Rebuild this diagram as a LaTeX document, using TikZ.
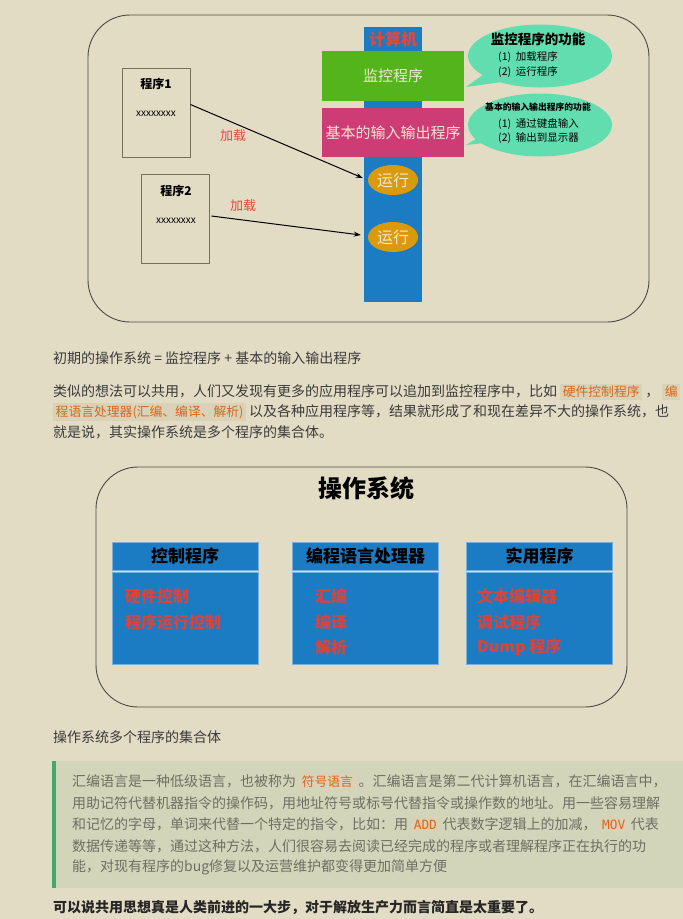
\documentclass[tikz,border=0pt]{standalone}
\usepackage{fontspec}
\setmainfont{Noto Sans CJK SC}
\newfontfamily\codemono{DejaVu Sans Mono}
\usetikzlibrary{arrows.meta,shapes.geometric}

\definecolor{pagebg}{HTML}{E3DCC5}
\definecolor{quotebg}{HTML}{D2D5BA}
\definecolor{quotebar}{HTML}{42A96B}
\definecolor{framegray}{HTML}{4A4A44}
\definecolor{boxgray}{HTML}{77705C}
\definecolor{colblue}{HTML}{1B7BC3}
\definecolor{monigreen}{HTML}{53B51B}
\definecolor{iopink}{HTML}{CE3C76}
\definecolor{runorange}{HTML}{DA9A0C}
\definecolor{bubblegreen}{HTML}{62DDB0}
\definecolor{labelred}{HTML}{E5473A}
\definecolor{itemred}{HTML}{E04238}
\definecolor{bodytext}{HTML}{3A3A3A}
\definecolor{quotetext}{HTML}{6E6E62}
\definecolor{codefg}{HTML}{D8661C}
\definecolor{codebg}{HTML}{DAD2B7}
\definecolor{boxtext}{HTML}{EEE8D2}

\newcommand{\hl}[1]{{\setlength{\fboxsep}{2.5pt}\colorbox{codebg}{\fontsize{12.8}{14}\selectfont\textcolor{codefg}{#1}}}}
\newcommand{\hlmono}[1]{\hl{\codemono #1}}

\tikzset{
  frame/.style={draw=framegray, line width=0.9pt, rounded corners=42pt},
  progbox/.style={draw=boxgray, line width=0.9pt, fill=pagebg, minimum width=68pt, minimum height=89pt, inner sep=0pt},
  layer/.style={minimum width=142pt, minimum height=50pt, inner sep=0pt, text=boxtext, font=\fontsize{15}{17}\selectfont},
  runoval/.style={ellipse, fill=runorange, minimum width=50pt, minimum height=30pt, inner sep=0pt, text=boxtext, font=\fontsize{16}{18}\selectfont},
  bubble/.style={ellipse, fill=bubblegreen, minimum width=144pt, minimum height=63pt, inner sep=0pt},
  hdbox/.style={fill=colblue, draw=colblue!60!white, line width=0.6pt, minimum width=146pt, minimum height=28pt, inner sep=0pt, font=\bfseries\fontsize{17}{19}\selectfont},
  bdbox/.style={fill=colblue, draw=colblue!60!white, line width=0.6pt, minimum width=146pt, minimum height=92pt, inner sep=0pt},
  item/.style={anchor=west, inner sep=0pt, text=itemred, font=\bfseries\fontsize{16}{18}\selectfont},
  line/.style={anchor=west, inner sep=0pt, text=bodytext, font=\fontsize{14}{20}\selectfont},
  qline/.style={anchor=west, inner sep=0pt, text=quotetext, font=\fontsize{14}{20}\selectfont},
  small/.style={inner sep=0pt, font=\fontsize{10.5}{12}\selectfont},
}

\begin{document}
\begin{tikzpicture}[x=1pt,y=-1pt]
  \fill[pagebg] (0,0) rectangle (683,919);
  \useasboundingbox (0,0) rectangle (683,919);

  % first picture: early operating system
  \draw[frame] (88,15) rectangle (649,322);
  \node[fill=colblue, minimum width=58pt, minimum height=275pt, inner sep=0pt] (col) at (393,164.5) {};
  \node[text=labelred, font=\bfseries\fontsize{16}{18}\selectfont, inner sep=0pt] (pc) at (393,39) {计算机};
  \node[layer, fill=monigreen] (moni) at (393,76) {监控程序};
  \node[layer, fill=iopink, minimum height=49pt] (bios) at (393,132.5) {基本的输入输出程序};
  \node[runoval] (run1) at (393,180) {运行};
  \node[runoval] (run2) at (393,237) {运行};

  \node[progbox] (p1) at (156,112.5) {};
  \node[small, font=\bfseries\fontsize{12}{14}\selectfont] (p1title) at (156,84) {程序1};
  \node[small, font=\fontsize{10}{12}\selectfont] (p1body) at (156,114) {xxxxxxxx};
  \node[progbox] (p2) at (175,218.5) {};
  \node[small, font=\bfseries\fontsize{12}{14}\selectfont] (p2title) at (176,191) {程序2};
  \node[small, font=\fontsize{10}{12}\selectfont] (p2body) at (176,221) {xxxxxxxx};

  \draw[-{Stealth[length=7pt,width=5pt]}, line width=1pt] ([yshift=8pt]p1.east) -- ([xshift=-5pt,yshift=2pt]run1.west);
  \draw[-{Stealth[length=7pt,width=5pt]}, line width=1pt] ([xshift=2pt,yshift=2.5pt]p2.east) -- ([xshift=-7pt,yshift=2pt]run2.west);
  \node[text=labelred, font=\fontsize{13}{15}\selectfont, inner sep=0pt] (load1) at (233,136) {加载};
  \node[text=labelred, font=\fontsize{13}{15}\selectfont, inner sep=0pt] (load2) at (243,206) {加载};

  % speech bubbles
  \fill[bubblegreen] (484,74) -- (466,87) -- (502,82) -- cycle;
  \node[bubble] (bub1) at (540,56) {};
  \node[small, font=\bfseries\fontsize{13.5}{15}\selectfont] (bub1title) at (538,39) {监控程序的功能};
  \node[small, anchor=west] (bub1a) at (498,57) {(1)\ \ 加载程序};
  \node[small, anchor=west] (bub1b) at (498,72) {(2)\ \ 运行程序};
  \fill[bubblegreen] (484,134) -- (466,145) -- (502,141) -- cycle;
  \node[bubble] (bub2) at (540,125) {};
  \node[small, font=\bfseries\fontsize{8.8}{10}\selectfont] (bub2title) at (538,107) {基本的输入输出程序的功能};
  \node[small, anchor=west] (bub2a) at (498,124) {(1)\ \ 通过键盘输入};
  \node[small, anchor=west] (bub2b) at (498,138) {(2)\ \ 输出到显示器};

  % text between the pictures
  \node[line] (t1) at (53,358) {初期的操作系统 = 监控程序 + 基本的输入输出程序};
  \node[line] (t2) at (53,392) {类似的想法可以共用，人们又发现有更多的应用程序可以追加到监控程序中，比如 \hl{硬件控制程序} ， \hl{编}};
  \node[line] (t3) at (53,412) {\hl{程语言处理器(汇编、编译、解析)} 以及各种应用程序等，结果就形成了和现在差异不大的操作系统，也};
  \node[line] (t4) at (53,432) {就是说，其实操作系统是多个程序的集合体。};

  % second picture: operating system
  \draw[frame] (96,467) rectangle (627,707);
  \node[font=\bfseries\fontsize{24}{26}\selectfont, inner sep=0pt] (ostitle) at (366,488) {操作系统};
  \node[hdbox] (hdctl) at (185,556) {控制程序};
  \node[bdbox] (bdctl) at (185,618) {};
  \node[hdbox] (hdlang) at (365.5,556) {编程语言处理器};
  \node[bdbox] (bdlang) at (365.5,618) {};
  \node[hdbox] (hdutil) at (539.5,556) {实用程序};
  \node[bdbox] (bdutil) at (539.5,618) {};
  \node[item] (ctl1) at (125,596) {硬件控制};
  \node[item] (ctl2) at (125,622) {程序运行控制};
  \node[item] (lang1) at (315,596) {汇编};
  \node[item] (lang2) at (315,622) {编译};
  \node[item] (lang3) at (315,647) {解析};
  \node[item] (util1) at (477,596) {文本编辑器};
  \node[item] (util2) at (477,622) {调试程序};
  \node[item] (util3) at (477,647) {Dump 程序};

  \node[line] (t5) at (53,737) {操作系统多个程序的集合体};

  % quote block
  \fill[quotebg] (52,761) rectangle (683,888);
  \fill[quotebar] (52,761) rectangle (56,888);
  \node[qline] (q1) at (72,782) {汇编语言是一种低级语言，也被称为 \hl{符号语言} 。汇编语言是第二代计算机语言，在汇编语言中，};
  \node[qline] (q2) at (72,803) {用助记符代替机器指令的操作码，用地址符号或标号代替指令或操作数的地址。用一些容易理解};
  \node[qline] (q3) at (72,825) {和记忆的字母，单词来代替一个特定的指令，比如：用 \hlmono{ADD} 代表数字逻辑上的加减， \hlmono{MOV} 代表};
  \node[qline] (q4) at (72,846) {数据传递等等，通过这种方法，人们很容易去阅读已经完成的程序或者理解程序正在执行的功};
  \node[qline] (q5) at (72,867) {能，对现有程序的bug修复以及运营维护都变得更加简单方便};

  \node[line, font=\bfseries\fontsize{14}{20}\selectfont, text=black!85] (t6) at (53,908) {可以说共用思想真是人类前进的一大步，对于解放生产力而言简直是太重要了。};
\end{tikzpicture}
\end{document}
